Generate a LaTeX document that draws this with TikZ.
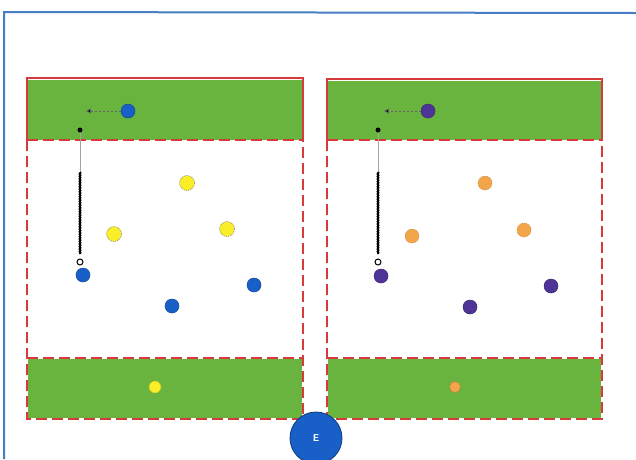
\documentclass[tikz,border=0pt]{standalone}
\usetikzlibrary{decorations.pathmorphing,arrows.meta}
\definecolor{fieldgreen}{RGB}{104,180,62}
\definecolor{linered}{RGB}{214,58,58}
\definecolor{frameblue}{RGB}{70,125,195}
\definecolor{pblue}{RGB}{25,95,200}
\definecolor{ppurple}{RGB}{78,52,150}
\definecolor{pyellow}{RGB}{250,238,40}
\definecolor{porange}{RGB}{242,165,75}
\begin{document}
\begin{tikzpicture}[x=1pt,y=-1pt,
  solidborder/.style={draw=linered,line width=2.5pt},
  dashborder/.style={draw=linered,line width=2.5pt,dash pattern=on 11pt off 5pt},
  player/.style={circle,minimum size=14pt,inner sep=0pt,line width=0.5pt},
  blueplayer/.style={player,fill=pblue,draw=pblue!75!black},
  purpleplayer/.style={player,fill=ppurple,draw=ppurple!75!black},
  yellowplayer/.style={player,minimum size=15pt,fill=pyellow,draw=black!55,dash pattern=on 1pt off 1pt},
  orangeplayer/.style={player,fill=porange,draw=porange!80!black,dash pattern=on 1pt off 1pt},
  smallyellow/.style={player,minimum size=12pt,fill=pyellow,draw=pyellow!80!black},
  smallorange/.style={player,minimum size=11pt,fill=porange,draw=porange!80!black},
  startdot/.style={circle,fill=black,minimum size=5pt,inner sep=0pt},
  ballicon/.style={circle,fill=white,draw=black,line width=1pt,minimum size=6pt,inner sep=0pt},
  runarrow/.style={draw=black!60,line width=0.8pt,dash pattern=on 2pt off 2pt,-{Triangle[length=5pt,width=5pt,fill=black]}},
  greyline/.style={draw=black!35,line width=1pt},
  dribble/.style={draw=black,line width=2pt,decorate,decoration={snake,amplitude=0.4pt,segment length=2.5pt}},
  coach/.style={circle,fill=pblue,draw=pblue!60!black,line width=0.8pt,minimum size=52pt,inner sep=0pt,text=white,font=\sffamily\bfseries}
]
\useasboundingbox (0,0) rectangle (636,459);
\fill[white] (0,0) rectangle (636,459);
% outer frame
\draw[frameblue,line width=2pt] (4,459) -- (4,12) -- (636,13);

% ---------- left field ----------
\fill[fieldgreen] (28,80) rectangle (302,140);
\fill[fieldgreen] (28,359) rectangle (302,418);
\draw[solidborder] (27,140) -- (27,78) -- (303,78) -- (303,140);
\draw[dashborder] (27,140) -- (27,419) -- (303,419) -- (303,140);
\draw[dashborder] (27,140) -- (303,140);
\draw[dashborder] (27,358) -- (303,358);

% ---------- right field ----------
\fill[fieldgreen] (328,81) rectangle (601,140);
\fill[fieldgreen] (328,359) rectangle (601,418);
\draw[solidborder] (327,140) -- (327,79) -- (602,79) -- (602,140);
\draw[dashborder] (327,140) -- (327,419) -- (602,419) -- (602,140);
\draw[dashborder] (327,140) -- (602,140);
\draw[dashborder] (327,358) -- (602,358);

% ---------- left field players ----------
\node[blueplayer] (bTop) at (128,111) {};
\coordinate (aL) at (86,111);
\draw[runarrow] (bTop) -- (aL);
\node[startdot] (dL) at (80,130) {};
\coordinate (wL) at (80,172);
\coordinate (wLe) at (80,254);
\draw[greyline] (dL) -- (wL);
\draw[dribble] (wL) -- (wLe);
\node[ballicon] (ballL) at (80,262) {};
\node[blueplayer] (b1) at (83,275) {};
\node[blueplayer] (b2) at (172,306) {};
\node[blueplayer] (b3) at (254,285) {};
\node[yellowplayer] (y1) at (187,183) {};
\node[yellowplayer] (y2) at (114,234) {};
\node[yellowplayer] (y3) at (227,229) {};
\node[smallyellow] (y4) at (155,387) {};

% ---------- right field players ----------
\node[purpleplayer] (pTop) at (428,111) {};
\coordinate (aR) at (384,111);
\draw[runarrow] (pTop) -- (aR);
\node[startdot] (dR) at (378,130) {};
\coordinate (wR) at (378,172);
\coordinate (wRe) at (378,254);
\draw[greyline] (dR) -- (wR);
\draw[dribble] (wR) -- (wRe);
\node[ballicon] (ballR) at (378,262) {};
\node[purpleplayer] (p1) at (381,276) {};
\node[purpleplayer] (p2) at (470,307) {};
\node[purpleplayer] (p3) at (551,286) {};
\node[orangeplayer] (o1) at (485,183) {};
\node[orangeplayer] (o2) at (412,236) {};
\node[orangeplayer] (o3) at (524,230) {};
\node[smallorange] (o4) at (455,387) {};

% coach
\node[coach] (E) at (316,438) {E};
\end{tikzpicture}
\end{document}
